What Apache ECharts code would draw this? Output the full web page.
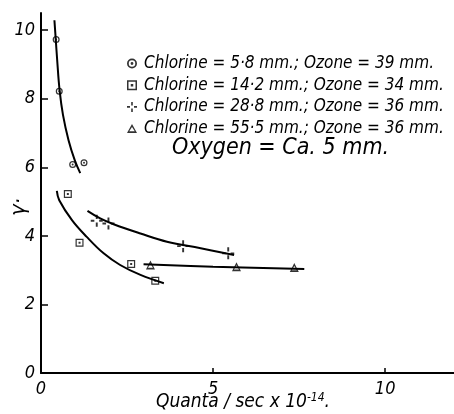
<!DOCTYPE html>
<html><head><meta charset="utf-8">
<script src="https://cdn.jsdelivr.net/npm/echarts@6/dist/echarts.min.js"></script>
<style>html,body{margin:0;padding:0;background:#fff}#c{width:454px;height:414px}</style>
</head><body><div id="c"></div>
<script>
// ---- data ----
const names = [
  'Chlorine = 5·8 mm.; Ozone = 39 mm.',
  'Chlorine = 14·2 mm.; Ozone = 34 mm.',
  'Chlorine = 28·8 mm.; Ozone = 36 mm.',
  'Chlorine = 55·5 mm.; Ozone = 36 mm.'
];
const pts58 = [[0.44, 9.73], [0.53, 8.22], [0.92, 6.08], [1.25, 6.13]];
const pts142 = [[0.78, 5.22], [1.12, 3.80], [2.62, 3.18], [3.32, 2.69]];
const pts288 = [[1.62, 4.44], [1.96, 4.36], [4.13, 3.70], [5.44, 3.49]];
const pts555 = [[3.18, 3.15], [5.68, 3.10], [7.36, 3.08]];
// hand-drawn fitted curves (traced points)
const curve58 = [[0.39, 10.29], [0.43, 9.71], [0.47, 9.13], [0.54, 8.25], [0.64, 7.52], [0.80, 6.79], [0.98, 6.21], [1.14, 5.83]];
const curve142 = [[0.46, 5.31], [0.53, 5.04], [0.90, 4.46], [1.33, 3.97], [1.82, 3.49], [2.30, 3.15], [2.89, 2.86], [3.57, 2.62]];
const curve288 = [[1.35, 4.73], [1.72, 4.51], [2.11, 4.34], [2.89, 4.07], [3.66, 3.83], [4.64, 3.64], [5.61, 3.44]];
const curve555 = [[2.98, 3.17], [5.0, 3.1], [7.65, 3.03]];
const xTicks = [0, 5, 10];
const yTicks = [0, 2, 4, 6, 8, 10];

const FONT = "'Liberation Sans Narrow','DejaVu Sans Condensed','Liberation Sans',sans-serif";
const symCircle = 'path://M10,0A10,10 0 1,1 -10,0A10,10 0 1,1 10,0Z M6.5,0A6.5,6.5 0 1,0 -6.5,0A6.5,6.5 0 1,0 6.5,0Z M2.8,0A2.8,2.8 0 1,1 -2.8,0A2.8,2.8 0 1,1 2.8,0Z';
const symSquare = 'path://M-10,-10H10V10H-10Z M-7,-7V7H7V-7Z M-2.5,-2.5H2.5V2.5H-2.5Z';
const symCross = 'path://M-1.6,-10H1.6V-3H-1.6Z M-1.6,3H1.6V10H-1.6Z M-10,-1.6H-4V1.6H-10Z M4,-1.6H10V1.6H4Z';
const symTri = 'path://M0,-10L10,8L-10,8Z M0,-4L-5.5,4.5L5.5,4.5Z';

function scatter(name, data, sym, size) {
  return { type: 'scatter', name, data, symbol: sym, symbolSize: size, itemStyle: { color: '#000' }, z: 5 };
}
function curve(data) {
  return { type: 'line', data, smooth: 0.4, symbol: 'none', lineStyle: { color: '#000', width: 2 }, z: 3 };
}

const chart = echarts.init(document.getElementById('c'), null, { renderer: 'canvas' });
chart.setOption({
  animation: false,
  backgroundColor: '#fff',
  grid: { left: 41, top: 13, right: 0, bottom: 41, containLabel: false },
  legend: {
    orient: 'vertical', left: 122, top: 50, itemGap: 4.7, itemWidth: 10, itemHeight: 10,
    textStyle: { fontFamily: FONT, fontStyle: 'italic', fontSize: 17, lineHeight: 17, color: '#000', padding: [0, 0, 0, 2] },
    data: [
      { name: names[0], icon: symCircle },
      { name: names[1], icon: symSquare },
      { name: names[2], icon: symCross },
      { name: names[3], icon: symTri }
    ]
  },
  xAxis: {
    type: 'value', min: 0, max: 12, interval: 5,
    axisLine: { show: true, lineStyle: { color: '#000', width: 2 } },
    axisTick: { show: true, inside: true, length: 5, lineStyle: { color: '#000', width: 1.5 }, customValues: xTicks.slice(1) },
    axisLabel: { customValues: xTicks, fontFamily: FONT, fontStyle: 'italic', fontSize: 18, color: '#000', margin: 7 },
    splitLine: { show: false }
  },
  yAxis: {
    type: 'value', min: 0, max: 10.5, interval: 2,
    axisLine: { show: true, lineStyle: { color: '#000', width: 2 } },
    axisTick: { show: true, inside: true, length: 7, lineStyle: { color: '#000', width: 1.5 }, customValues: yTicks.slice(1) },
    axisLabel: { customValues: yTicks, fontFamily: FONT, fontStyle: 'italic', fontSize: 18, color: '#000', margin: 6 },
    splitLine: { show: false }
  },
  graphic: [
    { type: 'text', left: 172, top: 137, style: { text: 'Oxygen = Ca. 5 mm.', font: 'italic 23px ' + FONT, fill: '#000' } },
    { type: 'text', x: 8, y: 216, rotation: Math.PI / 2, style: { text: 'γ·', font: 'italic 22px ' + FONT, fill: '#000' } },
    { type: 'text', left: 156, top: 392, style: {
        rich: { a: { font: 'italic 19px ' + FONT, fill: '#000' }, s: { font: 'italic 12px ' + FONT, fill: '#000', verticalAlign: 'top', padding: [0, 0, 8, 0] } },
        text: '{a|Quanta / sec x 10}{s|-14}{a|.}' } }
  ],
  series: [
    scatter(names[0], pts58, symCircle, 7),
    scatter(names[1], pts142, symSquare, 8),
    scatter(names[2], pts288, symCross, 12),
    scatter(names[3], pts555, symTri, 9),
    curve(curve58), curve(curve142), curve(curve288), curve(curve555)
  ]
});
</script></body></html>
